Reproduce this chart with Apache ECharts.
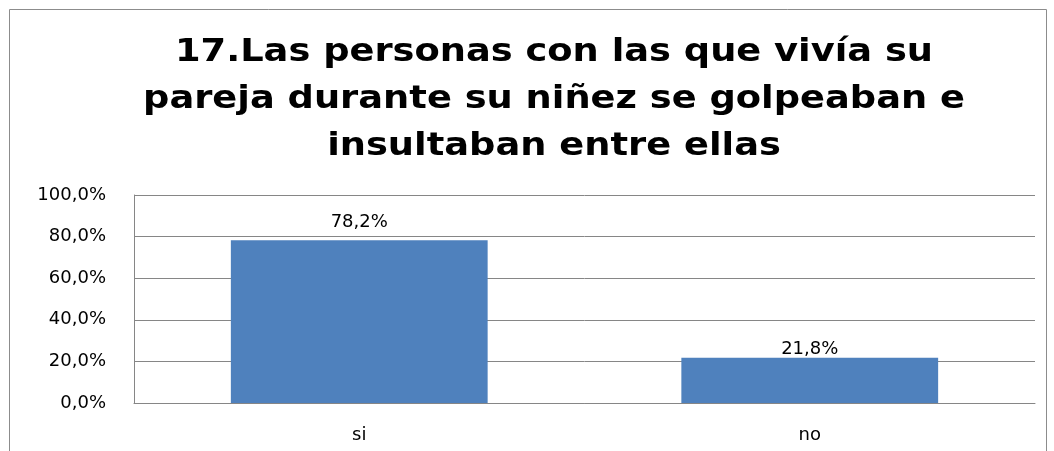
<!DOCTYPE html>
<html>
<head>
<meta charset="utf-8">
<script src="https://cdn.jsdelivr.net/npm/echarts@6/dist/echarts.min.js"></script>
<style>
html,body{margin:0;padding:0;background:#fff;}
#chart_1{width:1054px;height:451px;}
</style>
</head>
<body>
<div id="chart_1"></div>
<script>
// datos del grafico
var categorias = ['si', 'no'];
var valores = [78.2, 21.8];
var titulo = '17.Las personas con las que vivía su\npareja durante su niñez se golpeaban e\ninsultaban entre ellas';

function fmt(v){
	return v.toFixed(1).replace('.', ',') + '%';
}

function drawBar(){
	var dom = document.getElementById("chart_1");
	var myChart = echarts.init(dom);
	// la etiqueta de "no" queda pegada a la barra en el original
	var distancias = [9, -1];
	var barras = valores.map(function(v, i){
		return {value: v, label: {distance: distancias[i]}};
	});
	var option = {
		backgroundColor: '#fff',
		animation: false,
		graphic: [{
			type: 'rect',
			shape: {x: 9.5, y: 9.5, width: 1037, height: 470},
			style: {fill: 'none', stroke: '#8c8c8c', lineWidth: 1},
			silent: true
		}, {
			// titulo, algo ensanchado como en el original
			type: 'text',
			x: 554,
			y: 29,
			scaleX: 1.15,
			silent: true,
			style: {
				text: titulo,
				align: 'center',
				verticalAlign: 'top',
				fontFamily: 'DejaVu Sans, sans-serif',
				fontWeight: 'bold',
				fontSize: 32,
				lineHeight: 47,
				fill: '#000'
			}
		}],
		grid: {left: 134, right: 19, top: 195, bottom: 48},
		xAxis: {
			type: 'category',
			data: categorias,
			axisLine: {lineStyle: {color: '#868686'}},
			axisTick: {show: false},
			axisLabel: {
				color: '#000',
				fontSize: 18,
				fontFamily: 'DejaVu Sans, sans-serif',
				margin: 23
			}
		},
		yAxis: {
			type: 'value',
			min: 0,
			max: 100,
			interval: 20,
			axisLine: {show: true, lineStyle: {color: '#868686'}},
			axisTick: {show: false},
			splitLine: {lineStyle: {color: '#868686'}},
			axisLabel: {
				formatter: function(v){ return fmt(v); },
				color: '#000',
				fontSize: 18,
				fontFamily: 'DejaVu Sans, sans-serif',
				margin: 28
			}
		},
		series: [{
			type: 'bar',
			data: barras,
			barWidth: '57%',
			itemStyle: {color: '#4f81bd'},
			label: {
				show: true,
				position: 'top',
				color: '#000',
				fontSize: 18,
				fontFamily: 'DejaVu Sans, sans-serif',
				formatter: function(p){ return fmt(p.value); }
			}
		}]
	};
	myChart.setOption(option, true);
}

drawBar();
</script>
</body>
</html>
